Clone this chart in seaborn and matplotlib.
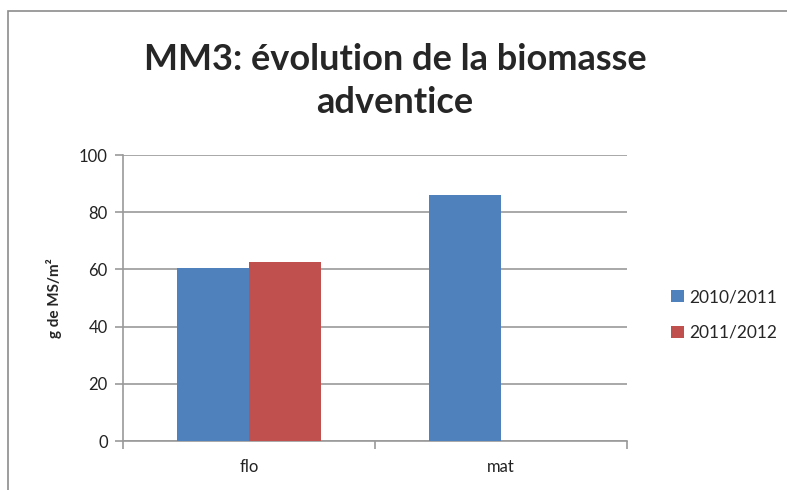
import matplotlib
matplotlib.use("Agg")
import matplotlib.pyplot as plt
import seaborn as sns
import pandas as pd
from matplotlib.patches import Rectangle, Patch

# =========================================================
# DATA
# =========================================================
stades = ["flo", "mat"]
campagnes = ["2010/2011", "2011/2012"]
biomasse_2010 = [60.6, 86.0]
biomasse_2011 = [62.5, 0.0]
couleurs = ["#4F81BD", "#C0504D"]

df = pd.DataFrame({
    "stade": stades * 2,
    "campagne": [campagnes[0]] * 2 + [campagnes[1]] * 2,
    "biomasse": biomasse_2010 + biomasse_2011,
})

# =========================================================
# PLOT
# =========================================================
sns.set_style("white")
plt.rcParams["font.family"] = ["Lato", "DejaVu Sans"]

fig = plt.figure(figsize=(7.87, 4.90), dpi=100)
ax = fig.add_axes([123/787, 1 - 441/490, 504/787, 286/490])

sns.barplot(data=df, x="stade", y="biomasse", hue="campagne",
            palette=couleurs, saturation=1, width=0.571, linewidth=0,
            ax=ax, legend=False, zorder=3)

ax.set_ylim(0, 100)
ax.set_yticks([0, 20, 40, 60, 80, 100])
ax.set_xlim(-0.5, 1.5)
ax.yaxis.grid(True, color="#9a9a9a", linewidth=1.2, zorder=0)
ax.set_axisbelow(True)

for s in ["top", "right"]:
    ax.spines[s].set_visible(False)
for s in ["left", "bottom"]:
    ax.spines[s].set_color("#9a9a9a")
    ax.spines[s].set_linewidth(1.2)

ax.tick_params(axis="y", length=6, color="#9a9a9a", width=1.2,
               labelsize=12, labelcolor="#222222", left=True, pad=5)
ax.tick_params(axis="x", length=0, labelsize=12, labelcolor="#222222", pad=13)
ax.set_xticks([-0.5, 0.5, 1.5], minor=True)
ax.tick_params(axis="x", which="minor", length=6, color="#9a9a9a", width=1.2, bottom=True)

ax.set_xlabel("")
ax.set_ylabel("g de MS/m²", fontsize=11, fontweight="bold", labelpad=12)

fig.text(0.502, 0.835, "MM3: évolution de la biomasse\nadventice",
         ha="center", va="center", fontsize=26, fontweight="bold",
         linespacing=1.35)

handles = [Patch(facecolor=c, edgecolor="none") for c in couleurs]
fig.legend(handles, campagnes, loc="center left",
           bbox_to_anchor=(655/787, 1 - 315/490), frameon=False,
           fontsize=12.5, handlelength=0.75, handleheight=0.75,
           handletextpad=0.3, labelspacing=1.15)

fig.patches.append(Rectangle((8/787, -0.1), 1.2, 1 - 11/490 + 0.1,
                             transform=fig.transFigure, fill=False,
                             edgecolor="#8c8c8c", linewidth=1.2))

fig.savefig("out.png", dpi=100)
